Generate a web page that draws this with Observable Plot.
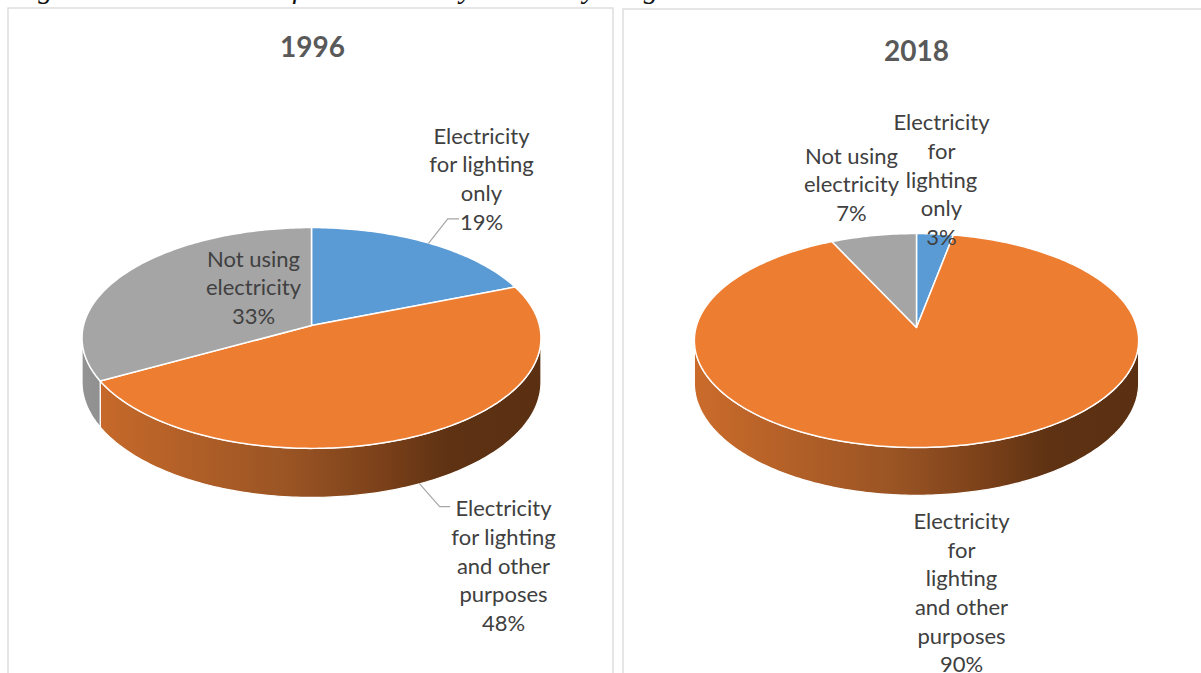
<!DOCTYPE html>
<html>
<head>
<meta charset="utf-8">
<script src="https://cdn.jsdelivr.net/npm/d3@7"></script>
<script src="https://cdn.jsdelivr.net/npm/@observablehq/plot@0.6"></script>
<style>
  html, body { margin: 0; padding: 0; background: #fff; }
  #chart svg { display: block; }
</style>
</head>
<body>
<div id="chart"></div>
<script>
// ---------- data ----------
const categories = [
  "Electricity for lighting only",
  "Electricity for lighting and other purposes",
  "Not using electricity"
];
const years = ["1996", "2018"];
const values1996 = [19, 48, 33];
const values2018 = [3, 90, 7];
const labels1996 = [
  "Electricity\nfor lighting\nonly\n19%",
  "Electricity\nfor lighting\nand other\npurposes\n48%",
  "Not using\nelectricity\n33%"
];
const labels2018 = [
  "Electricity\nfor\nlighting\nonly\n3%",
  "Electricity\nfor\nlighting\nand other\npurposes\n90%",
  "Not using\nelectricity\n7%"
];
const caption = "Figure 8: Distribution of households by electricity usage";

// ---------- styles / layout ----------
const sliceColors = ["#5B9BD5", "#ED7D31", "#A5A5A5"];
const W = 1201, H = 673;
const pies = [
  {year: years[0], values: values1996, labels: labels1996,
   cx: 311, cy: 325, s: 228, sy: 109, a: 0.113, t: 43.5,
   title: [312, 48],
   labelPos: [[481, 177], [503, 564], [253, 285.5]],
   leader: [true, true, false]},
  {year: years[1], values: values2018, labels: labels2018,
   cx: 916, cy: 327, s: 220.5, sy: 105.4, a: 0.1216, t: 42,
   title: [916, 52],
   labelPos: [[941, 178], [961, 591], [851, 182.5]],
   leader: [false, false, false]}
];

const rad = d => d * Math.PI / 180;
function proj(p, deg, depth = 0) {
  const th = rad(deg);
  const den = 1 + p.a * Math.cos(th);
  return [p.cx + p.s * Math.sin(th) / den,
          p.cy - p.sy * Math.cos(th) / den + depth * p.t / den];
}
function arcPts(p, d0, d1, depth) {
  const n = Math.max(2, Math.ceil(Math.abs(d1 - d0) / 1));
  const pts = [];
  for (let i = 0; i <= n; i++) pts.push(proj(p, d0 + (d1 - d0) * i / n, depth));
  return pts;
}

const sideMarks = [], topMarks = [], textMarks = [], leaderMarks = [];
const gradDefs = [];

pies.forEach((p, pi) => {
  const total = d3.sum(p.values);
  let acc = 0;
  const slices = p.values.map((v, i) => {
    const d0 = acc / total * 360; acc += v;
    const d1 = acc / total * 360;
    return {i, d0, d1, v};
  });
  const th0 = Math.acos(-p.a) * 180 / Math.PI; // silhouette angle
  const frontA = th0, frontB = 360 - th0;
  gradDefs.push({id: `side-o-${pi}`, x1: p.cx - p.s, x2: p.cx + p.s,
    stops: [[0, "#CA6B2B"], [0.45, "#9A5424"], [0.66, "#7A4019"], [0.8, "#5E3213"], [1, "#5B3012"]]});
  gradDefs.push({id: `side-g-${pi}`, x1: p.cx - p.s, x2: p.cx + p.s,
    stops: [[0, "#939393"], [0.5, "#6E6E6E"], [1, "#505050"]]});
  gradDefs.push({id: `side-b-${pi}`, x1: p.cx - p.s, x2: p.cx + p.s,
    stops: [[0, "#4A80B0"], [1, "#2A4A66"]]});
  const sideFill = [`url(#side-b-${pi})`, `url(#side-o-${pi})`, `url(#side-g-${pi})`];

  slices.forEach(sl => {
    const a0 = Math.max(sl.d0, frontA), a1 = Math.min(sl.d1, frontB);
    if (a1 > a0) {
      const top = arcPts(p, a0, a1, 0);
      const bot = arcPts(p, a1, a0, 1);
      const poly = [...top, ...bot, top[0]].map(([x, y]) => ({x, y}));
      sideMarks.push(Plot.line(poly, {x: "x", y: "y", fill: sideFill[sl.i],
        stroke: "white", strokeWidth: 1.2, strokeLinejoin: "round", curve: "linear"}));
    }
    const apex = [p.cx, p.cy];
    const rim = arcPts(p, sl.d0, sl.d1, 0);
    const wedge = [apex, ...rim, apex].map(([x, y]) => ({x, y}));
    topMarks.push(Plot.line(wedge, {x: "x", y: "y", fill: sliceColors[sl.i],
      stroke: "white", strokeWidth: 1.5, strokeLinejoin: "round", curve: "linear"}));

    const [lx, ly] = p.labelPos[sl.i];
    textMarks.push(Plot.text([{x: lx, y: ly, t: p.labels[sl.i]}], {
      x: "x", y: "y", text: "t", fontSize: 22, lineHeight: 1.3,
      fill: "#404040", textAnchor: "middle", fontFamily: "Lato"}));

    if (p.leader[sl.i]) {
      const mid = (sl.d0 + sl.d1) / 2;
      const inFront = mid > frontA && mid < frontB;
      const start = proj(p, mid, (inFront && mid > 100) ? 1 : 0);
      const nLines = p.labels[sl.i].split("\n").length;
      const blockH = nLines * 22 * 1.3;
      let elbow, end;
      if (start[1] < ly) {
        const yl = ly - blockH / 2 + 22 * 0.62;
        elbow = [start[0] + 20, yl]; end = [elbow[0] + 10, yl];
      } else {
        const yl = ly + blockH / 2 - 22 * 0.72;
        elbow = [start[0] + 19, yl]; end = [elbow[0] + 11, yl];
      }
      leaderMarks.push(Plot.line([start, elbow, end].map(([x, y]) => ({x, y})),
        {x: "x", y: "y", stroke: "#A6A6A6", strokeWidth: 1.2}));
    }
  });
  textMarks.push(Plot.text([{x: p.title[0], y: p.title[1], t: p.year}], {
    x: "x", y: "y", text: "t", fontSize: 28, fontWeight: "bold",
    fill: "#595959", fontFamily: "Lato"}));
});

const boxes = [
  {x1: 8, x2: 613, y1: 8, y2: 700},
  {x1: 623, x2: 1230, y1: 9, y2: 700}
];

const chart = Plot.plot({
  width: W, height: H,
  marginTop: 0, marginRight: 0, marginBottom: 0, marginLeft: 0,
  x: {domain: [0, W], range: [0, W], axis: null},
  y: {domain: [0, H], range: [0, H], axis: null},
  style: {background: "white", overflow: "hidden"},
  marks: [
    Plot.rect(boxes, {x1: "x1", x2: "x2", y1: "y1", y2: "y2",
      fill: "white", stroke: "#D9D9D9", strokeWidth: 1.3}),
    ...sideMarks,
    ...topMarks,
    ...leaderMarks,
    ...textMarks,
    Plot.text([{x: 12, y: -3, t: caption}], {x: "x", y: "y", text: "t",
      textAnchor: "start", lineAnchor: "bottom", fontSize: 29, fontStyle: "italic",
      fontFamily: "Liberation Serif", fill: "#111"})
  ]
});

const svg = d3.select(chart);
const defs = svg.insert("defs", ":first-child");
gradDefs.forEach(g => {
  const lg = defs.append("linearGradient").attr("id", g.id)
    .attr("gradientUnits", "userSpaceOnUse")
    .attr("x1", g.x1).attr("x2", g.x2).attr("y1", 0).attr("y2", 0);
  g.stops.forEach(([o, c]) => lg.append("stop").attr("offset", o).attr("stop-color", c));
});

document.getElementById("chart").appendChild(chart);
</script>
</body>
</html>
